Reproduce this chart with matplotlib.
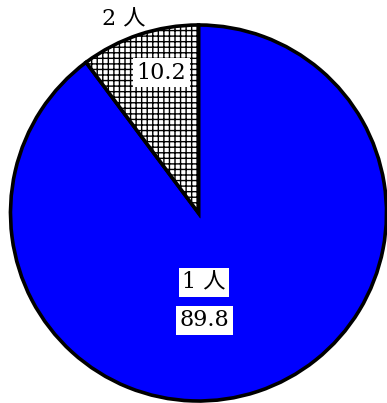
import numpy as np
import matplotlib
matplotlib.use("Agg")
from matplotlib import pyplot as plt

labels = ["1 人", "2 人"]
values = [89.8, 10.2]
colors = ["#0000ff", "white"]
hatches = ["", "+++"]

plt.rcParams["hatch.linewidth"] = 1.0
fam = ["DejaVu Serif", "Noto Sans CJK JP"]

fig = plt.figure(figsize=(3.87, 4.03), dpi=100)
ax = fig.add_axes([10.5 / 387, 2 / 403, 376 / 387, 376 / 403])

wedges, _ = ax.pie(values, colors=colors, startangle=90, counterclock=False,
                   wedgeprops=dict(edgecolor="black", linewidth=2.6))
for w, h in zip(wedges, hatches):
    w.set_hatch(h)
    w.set_clip_on(False)

ax.set_xlim(-1, 1)
ax.set_ylim(-1, 1)
ax.set_aspect("equal")
ax.axis("off")

box = dict(facecolor="white", edgecolor="none", pad=2.5)
ax.text(0.03, -0.37, labels[0], ha="center", va="center", fontsize=16,
        family=fam, bbox=box)
ax.text(0.03, -0.57, f"{values[0]:.1f}", ha="center", va="center", fontsize=16,
        family=fam, bbox=box)
ax.text(-0.40, 1.03, labels[1], ha="center", va="center", fontsize=16,
        family=fam)
ax.text(-0.197, 0.745, f"{values[1]:.1f}", ha="center", va="center", fontsize=16,
        family=fam, bbox=box)

fig.savefig("out.png", dpi=100)
